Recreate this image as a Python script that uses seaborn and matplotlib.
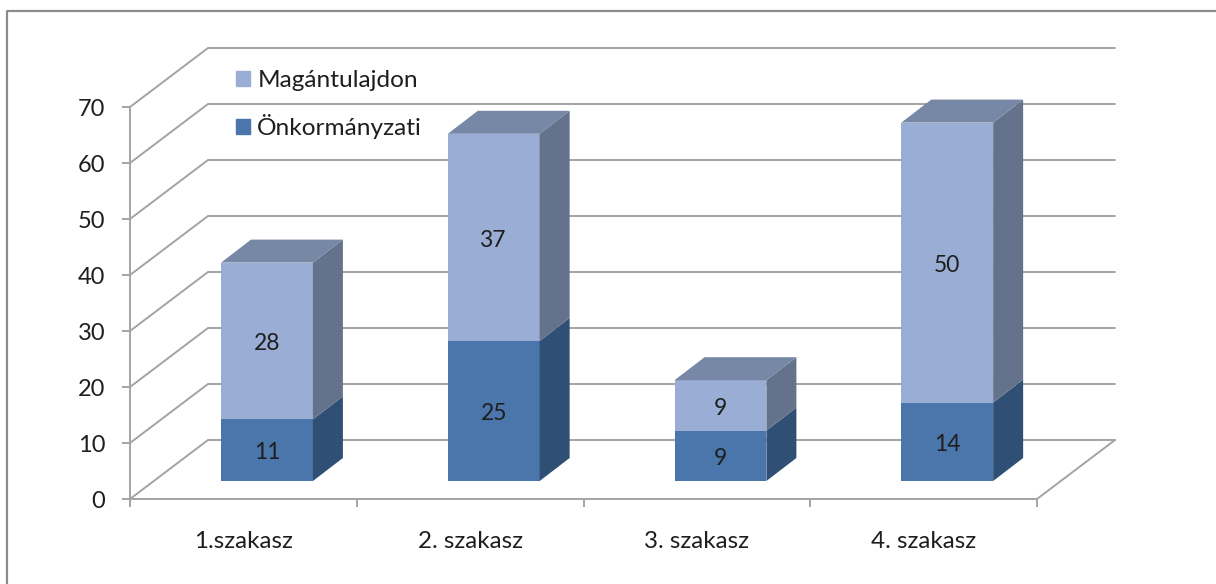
import numpy as np
import pandas as pd
import matplotlib
matplotlib.use('Agg')
import matplotlib.pyplot as plt
from matplotlib.lines import Line2D
from matplotlib.patches import Patch, Polygon
import seaborn as sns

# values
szakaszok = ['1.szakasz', '2. szakasz', '3. szakasz', '4. szakasz']
onkormanyzati = [11, 25, 9, 14]
magantulajdon = [28, 37, 9, 50]
y_ticks = [0, 10, 20, 30, 40, 50, 60, 70]

W, H = 1216, 584

sns.set_theme(style='white')
plt.rcParams['font.family'] = ['Lato', 'DejaVu Sans']

GRID = '#a3a3a3'
TEXT = '#1e1e1e'
LIGHT = '#9aadd4'
DARK = '#4a76ab'
LIGHT_SIDE = '#64728c'
DARK_SIDE = '#2f4f75'
TOP = '#7688a6'
FS = 17.4


def px_box(left, right, top, bottom):
    # figure fractions from pixel edges
    return [left / W, 1 - bottom / H, (right - left) / W, (bottom - top) / H]


fig = plt.figure(figsize=(W / 100, H / 100), dpi=100, facecolor='white')

# outer frame: only left and top edge are visible
fig.add_artist(Line2D([7 / W, 7 / W, 1], [0, 1 - 11 / H, 1 - 11 / H],
                      color='#8c8c8c', lw=1.6, transform=fig.transFigure))

# front plane with the real axes
ax = fig.add_axes(px_box(130, 1037, 107, 499))
ax.set_xlim(0, 4)
ax.set_ylim(0, 70)
ax.patch.set_alpha(0)
sns.despine(ax=ax)
for side in ['left', 'bottom']:
    ax.spines[side].set_color(GRID)
    ax.spines[side].set_linewidth(1.4)

ax.set_yticks(y_ticks)
ax.set_xticks(range(5))
ax.set_xticklabels([])
ax.set_xticks(np.arange(4) + 0.5, labels=szakaszok, minor=True)
ax.tick_params(axis='y', which='major', left=True, length=5.8, width=1.4, color=GRID,
               labelsize=FS - 0.4, labelcolor=TEXT, pad=12)
ax.tick_params(axis='x', which='major', bottom=True, length=6, width=1.4, color=GRID)
ax.tick_params(axis='x', which='minor', bottom=False, length=0, labelsize=FS,
               labelcolor=TEXT, pad=23)

# walls: diagonal and back line for each gridline
wall_dx = 78 / (907 / 4)
wall_dy = 59 / 5.6
for v in y_ticks:
    ax.plot([0, wall_dx, 4 + wall_dx], [v, v + wall_dy, v + wall_dy],
            color=GRID, lw=1.4, clip_on=False, zorder=1)
ax.plot([4, 4 + wall_dx], [0, wall_dy], color=GRID, lw=1.4, clip_on=False, zorder=1)

ax.legend(handles=[Patch(color=LIGHT, label='Magántulajdon'),
                   Patch(color=DARK, label='Önkormányzati')],
          loc='upper left', bbox_to_anchor=((229 - 130) / 907, 1.1128),
          frameon=False, fontsize=FS + 0.2, labelcolor=TEXT, handlelength=0.57, handleheight=0.57,
          handletextpad=0.29, labelspacing=0.95, borderaxespad=0, borderpad=0.3)

# bars stand in their own plane, moved into the depth of the chart
ax_bars = fig.add_axes(px_box(153.6, 1060.6, 89, 481))
df = pd.DataFrame({'szakasz': szakaszok,
                   'onk': onkormanyzati,
                   'ossz': np.add(onkormanyzati, magantulajdon)})
sns.barplot(data=df, x='szakasz', y='ossz', color=LIGHT, saturation=1, width=0.405,
            linewidth=0, ax=ax_bars)
sns.barplot(data=df, x='szakasz', y='onk', color=DARK, saturation=1, width=0.405,
            linewidth=0, ax=ax_bars)
ax_bars.set_xlim(-0.5, 3.5)
ax_bars.set_ylim(0, 70)
ax_bars.axis('off')

half = 0.405 / 2
depth_x = 30 / (907 / 4)
depth_y = 23 / 5.6
for i, row in df.iterrows():
    left, right = i - half, i + half
    low, total = row['onk'], row['ossz']
    sides = [(0, low, DARK_SIDE), (low, total, LIGHT_SIDE)]
    for y0, y1, col in sides:
        ax_bars.add_patch(Polygon([(right, y0), (right + depth_x, y0 + depth_y),
                                   (right + depth_x, y1 + depth_y), (right, y1)],
                                  facecolor=col, edgecolor='none', clip_on=False))
    ax_bars.add_patch(Polygon([(left, total), (left + depth_x, total + depth_y),
                               (right + depth_x, total + depth_y), (right, total)],
                              facecolor=TOP, edgecolor='none', clip_on=False))
    ax_bars.annotate(str(low), (i, low / 2), xytext=(0, -2), textcoords='offset points',
                     ha='center', va='center', fontsize=FS - 1, color=TEXT)
    ax_bars.annotate(str(total - low), (i, low + (total - low) / 2), xytext=(0, -2),
                     textcoords='offset points', ha='center', va='center',
                     fontsize=FS - 1, color=TEXT)

fig.savefig('out.png', dpi=100)
